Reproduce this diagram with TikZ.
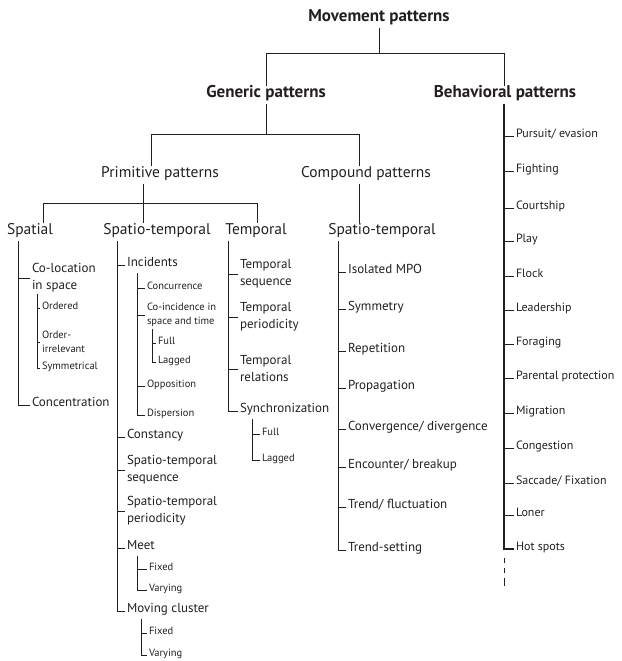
\documentclass[tikz,border=0pt]{standalone}
\usepackage{fontspec}
\setmainfont{PT Sans}
\definecolor{inkc}{HTML}{231F20}

\begin{document}
\begin{tikzpicture}[x=1pt,y=-1pt,color=inkc,line width=1pt,
    head/.style={font=\fontsize{17}{19}\selectfont\bfseries,text height=.75em,text depth=.25em},
    grp/.style={font=\fontsize{15.5}{17}\selectfont,text height=.75em,text depth=.25em},
    leaf/.style={anchor=west,inner sep=1.5pt,font=\fontsize{13}{16}\selectfont,text height=1.5ex,text depth=.9ex},
    leaftwo/.style={anchor=west,inner sep=1.5pt,align=left,font=\fontsize{13}{17}\selectfont},
    behleaf/.style={leaf,font=\fontsize{12}{15}\selectfont},
    small/.style={anchor=west,inner sep=1.5pt,font=\fontsize{10.5}{13}\selectfont,text height=1.5ex,text depth=.9ex},
    smalltwo/.style={anchor=west,inner sep=1.5pt,align=left,font=\fontsize{10.5}{14}\selectfont},
    sub/.style={line width=.8pt}]
    \useasboundingbox (0,0) rectangle (621,661);

    \node[head] (mov) at (379,19) {Movement patterns};
    \node[head] (gen) at (266,95) {Generic patterns};
    \node[head] (beh) at (505,95) {Behavioral patterns};
    \node[grp] (prim) at (160,175) {Primitive patterns};
    \node[grp] (comp) at (366,175) {Compound patterns};
    \node[grp] (spat) at (30,232) {Spatial};
    \node[grp] (stp) at (157,232) {Spatio-temporal};
    \node[grp] (temp) at (256,232) {Temporal};
    \node[grp] (cst) at (382,232) {Spatio-temporal};

    \coordinate (bar1L) at (266,54); \coordinate (bar1R) at (504,54);
    \coordinate (bar2L) at (151,134); \coordinate (bar2R) at (359,134);
    \coordinate (bar3L) at (43,203); \coordinate (bar3R) at (257,203);
    \coordinate (primx) at (143,0);

    \draw (mov.south) -- (mov.south |- bar1L);
    \draw (gen.north -| bar1L) |- (bar1R) -- (beh.north -| bar1R);
    \draw (gen.south) -- (gen.south |- bar2L);
    \draw (prim.north -| bar2L) |- (bar2R) -- (comp.north -| bar2R);
    \draw (comp.south -| bar2R) -- (cst.north -| bar2R);
    \draw (prim.south -| primx) -- (stp.north -| primx);
    \draw (spat.north -| bar3L) |- (bar3R) -- (temp.north -| bar3R);

    \node[leaftwo] (coloc) at (30,278) {Co-location\\in space};
    \node[leaf] (conc) at (30,405) {Concentration};
    \node[small] (ord) at (40,308) {Ordered};
    \node[smalltwo] (oirr) at (40,342) {Order-\\irrelevant};
    \node[small] (symt) at (40,368) {Symmetrical};

    \coordinate (spatx) at (18,0); \coordinate (colx) at (37,0);
    \draw (spat.south -| spatx) |- (conc.west);
    \draw (spatx |- coloc.west) -- (coloc.west);
    \draw[sub] (coloc.south -| colx) |- (symt.west);
    \draw[sub] (colx |- ord.west) -- (ord.west) (colx |- oirr.west) -- (oirr.west);

    \node[leaf] (inc) at (125,265) {Incidents};
    \node[leaf] (cons) at (125,437) {Constancy};
    \node[leaftwo] (stseq) at (125,470) {Spatio-temporal\\sequence};
    \node[leaftwo] (stper) at (125,511) {Spatio-temporal\\periodicity};
    \node[leaf] (meet) at (125,548) {Meet};
    \node[leaf] (mcl) at (125,611) {Moving cluster};
    \node[small] (concur) at (145,288) {Concurrence};
    \node[smalltwo] (coinc) at (145,315) {Co-incidence in\\space and time};
    \node[small] (opp) at (145,386) {Opposition};
    \node[small] (disp) at (145,415) {Dispersion};
    \node[small] (full1) at (156,343) {Full};
    \node[small] (lag1) at (156,362) {Lagged};
    \node[small] (fix1) at (147,569) {Fixed};
    \node[small] (var1) at (147,590) {Varying};
    \node[small] (fix2) at (147,633) {Fixed};
    \node[small] (var2) at (147,655) {Varying};

    \coordinate (stpx) at (117,0); \coordinate (incx) at (137,0);
    \coordinate (coix) at (152,0); \coordinate (meetx) at (137,0);
    \coordinate (mclx) at (141,0);
    \draw (stp.south -| stpx) |- (mcl.west);
    \draw (stpx |- inc.west) -- (inc.west) (stpx |- cons.west) -- (cons.west)
        (stpx |- stseq.west) -- (stseq.west) (stpx |- stper.west) -- (stper.west)
        (stpx |- meet.west) -- (meet.west);
    \draw[sub] (inc.south -| incx) |- (disp.west);
    \draw[sub] (incx |- concur.west) -- (concur.west) (incx |- coinc.west) -- (coinc.west)
        (incx |- opp.west) -- (opp.west);
    \draw[sub] (coinc.south -| coix) |- (lag1.west);
    \draw[sub] (coix |- full1.west) -- (full1.west);
    \draw[sub] (meet.south -| meetx) |- (var1.west);
    \draw[sub] (meetx |- fix1.west) -- (fix1.west);
    \draw[sub] (mcl.south -| mclx) |- (var2.west);
    \draw[sub] (mclx |- fix2.west) -- (fix2.west);

    \node[leaftwo] (tseq) at (238,274) {Temporal\\sequence};
    \node[leaftwo] (tper) at (238,317) {Temporal\\periodicity};
    \node[leaftwo] (trel) at (238,369) {Temporal\\relations};
    \node[leaf] (sync) at (238,411) {Synchronization};
    \node[small] (full2) at (260,434) {Full};
    \node[small] (lag2) at (260,460) {Lagged};

    \coordinate (tempx) at (228,0); \coordinate (syncx) at (252,0);
    \draw (temp.south -| tempx) |- (sync.west);
    \draw (tempx |- tseq.west) -- (tseq.west) (tempx |- tper.west) -- (tper.west)
        (tempx |- trel.west) -- (trel.west);
    \draw[sub] (sync.south -| syncx) |- (lag2.west);
    \draw[sub] (syncx |- full2.west) -- (full2.west);

    \node[leaf] (iso) at (346,272) {Isolated MPO};
    \node[leaf] (symm) at (346,309) {Symmetry};
    \node[leaf] (rep) at (346,351) {Repetition};
    \node[leaf] (prop) at (346,388) {Propagation};
    \node[leaf] (conv) at (346,429) {Convergence/ divergence};
    \node[leaf] (enc) at (346,467) {Encounter/ breakup};
    \node[leaf] (trf) at (346,507) {Trend/ fluctuation};
    \node[leaf] (tset) at (346,550) {Trend-setting};

    \coordinate (cstx) at (338,0);
    \draw (cst.south -| cstx) |- (tset.west);
    \draw (cstx |- iso.west) -- (iso.west) (cstx |- symm.west) -- (symm.west)
        (cstx |- rep.west) -- (rep.west) (cstx |- prop.west) -- (prop.west)
        (cstx |- conv.west) -- (conv.west) (cstx |- enc.west) -- (enc.west)
        (cstx |- trf.west) -- (trf.west);

    \node[behleaf] (purs) at (514,136) {Pursuit/ evasion};
    \node[behleaf] (figh) at (514,171) {Fighting};
    \node[behleaf] (crt) at (514,208) {Courtship};
    \node[behleaf] (play) at (514,241) {Play};
    \node[behleaf] (flck) at (514,276) {Flock};
    \node[behleaf] (lead) at (514,310) {Leadership};
    \node[behleaf] (forg) at (514,344) {Foraging};
    \node[behleaf] (parp) at (514,378) {Parental protection};
    \node[behleaf] (migr) at (514,413) {Migration};
    \node[behleaf] (cong) at (514,448) {Congestion};
    \node[behleaf] (sacc) at (514,483) {Saccade/ Fixation};
    \node[behleaf] (lonr) at (514,515) {Loner};
    \node[behleaf] (hots) at (514,549) {Hot spots};

    \coordinate (behx) at (504,0); \coordinate (behend) at (504,586);
    \draw[line width=1.5pt] (beh.south -| behx) |- (hots.west);
    \draw (behx |- purs.west) -- (purs.west) (behx |- figh.west) -- (figh.west)
        (behx |- crt.west) -- (crt.west) (behx |- play.west) -- (play.west)
        (behx |- flck.west) -- (flck.west) (behx |- lead.west) -- (lead.west)
        (behx |- forg.west) -- (forg.west) (behx |- parp.west) -- (parp.west)
        (behx |- migr.west) -- (migr.west) (behx |- cong.west) -- (cong.west)
        (behx |- sacc.west) -- (sacc.west) (behx |- lonr.west) -- (lonr.west);
    \draw[dash pattern=on 0pt off 9pt on 5pt off 5pt on 5pt off 5pt on 5pt] (hots.west -| behx) -- (behend);
\end{tikzpicture}
\end{document}
